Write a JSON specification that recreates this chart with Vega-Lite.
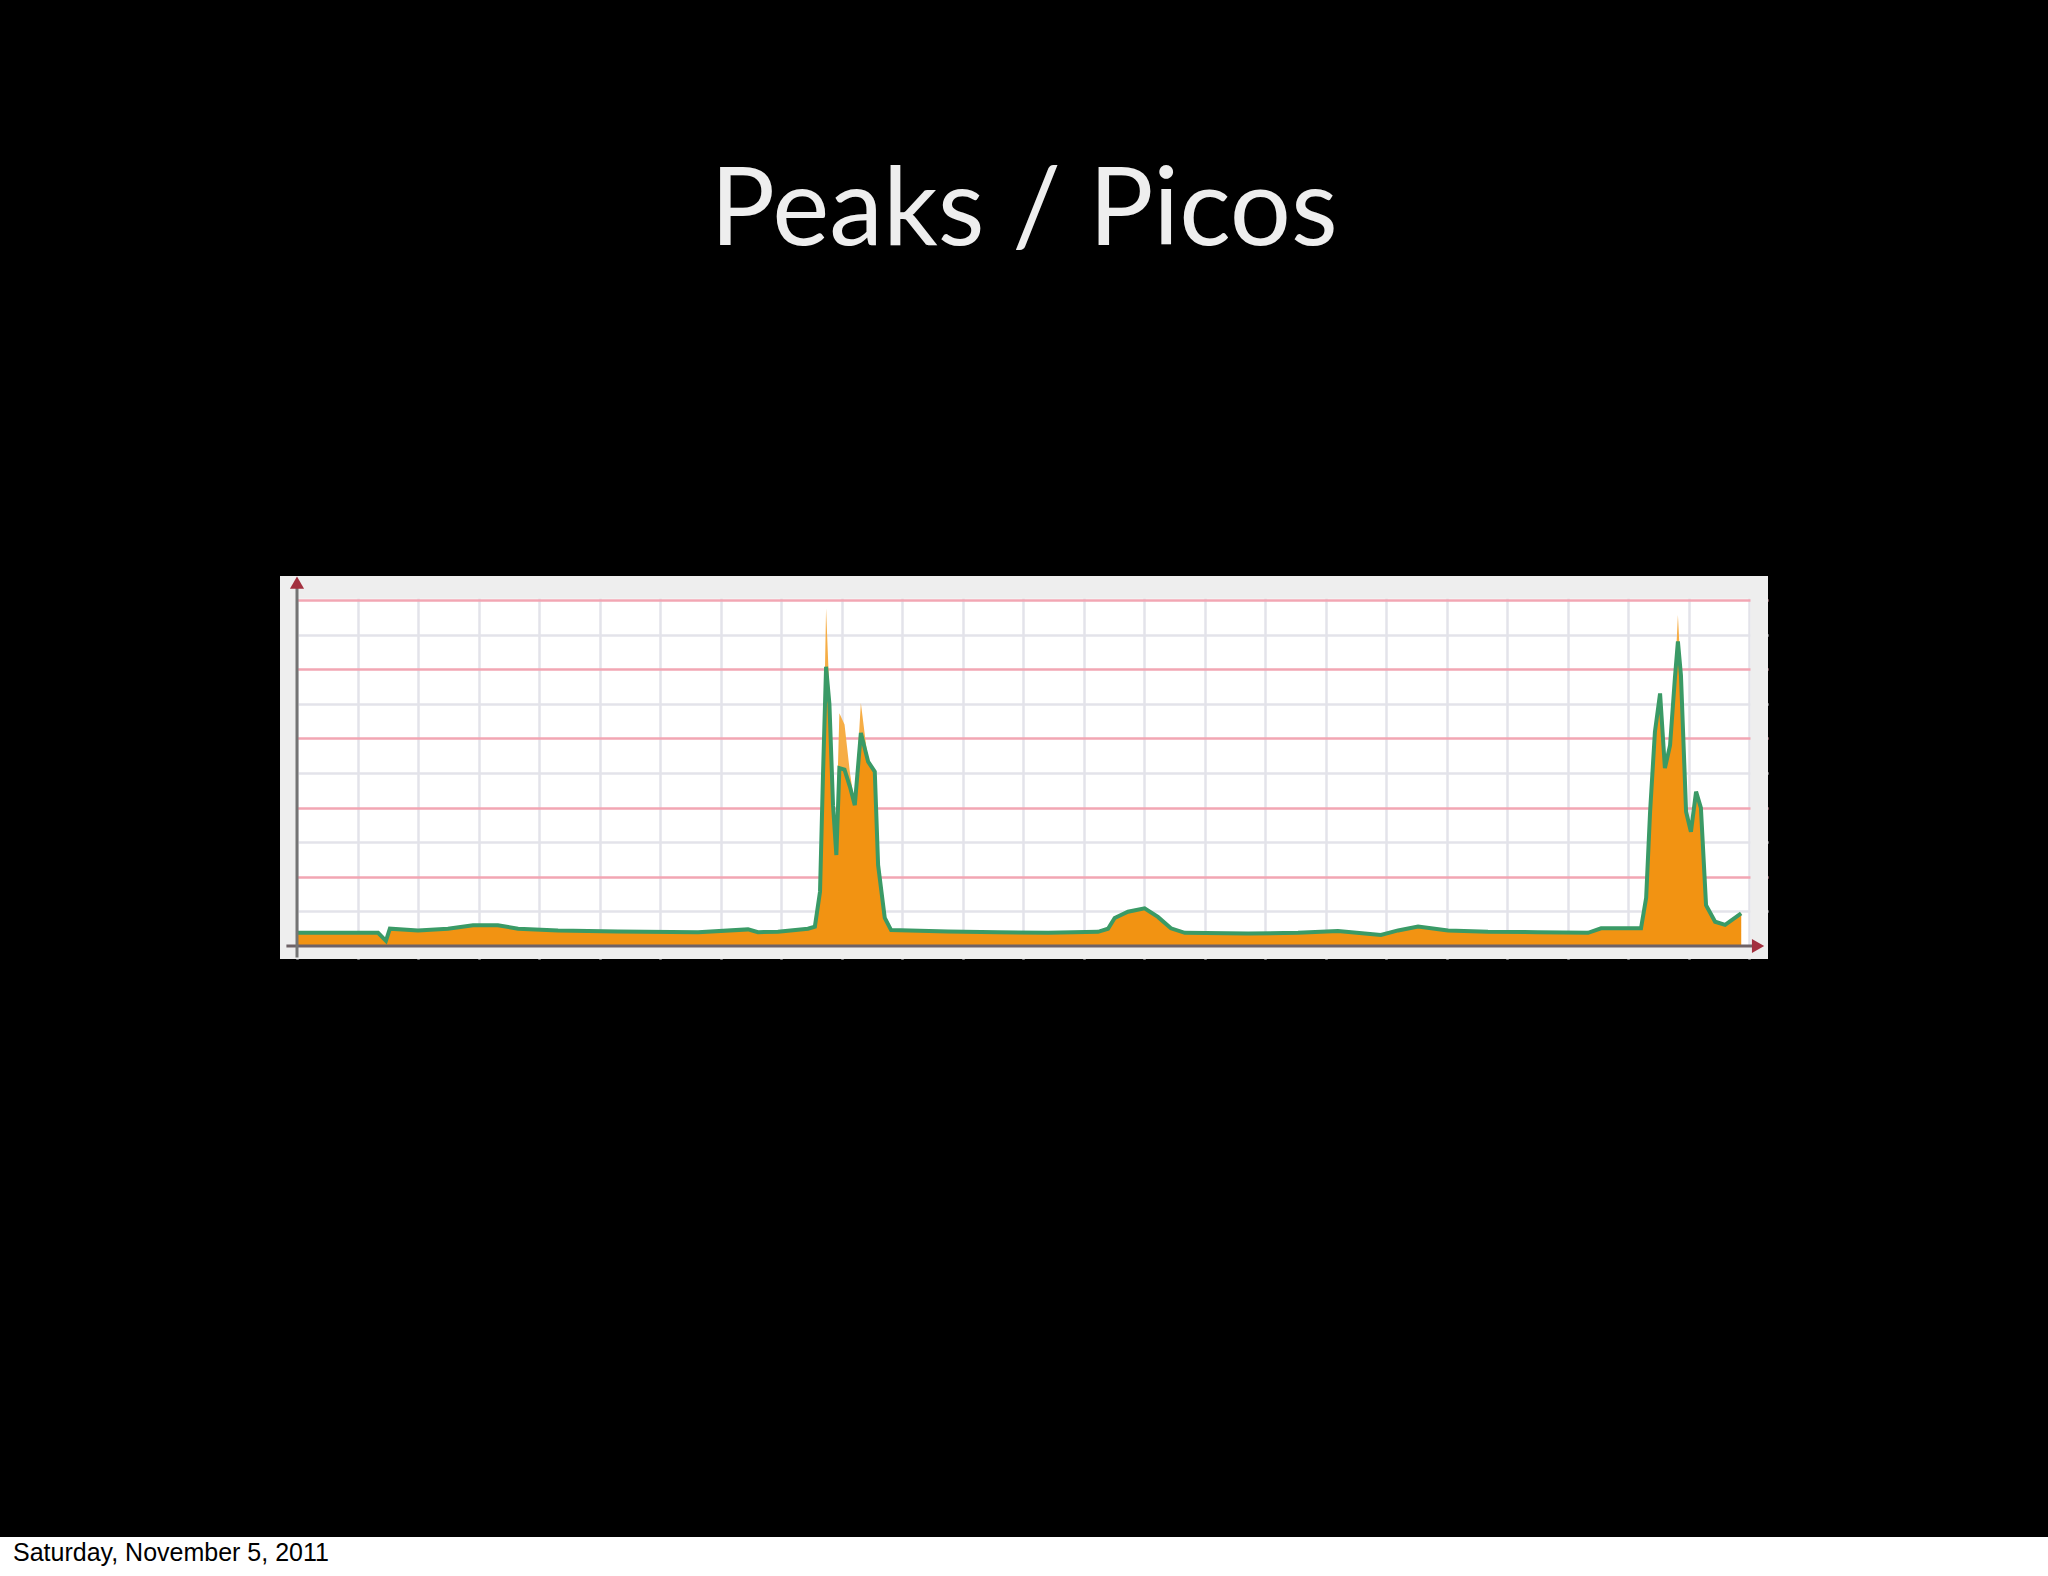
{
  "$schema": "https://vega.github.io/schema/vega-lite/v6.json",
  "background": "#000000",
  "padding": {"left": 0, "right": 0, "top": 159, "bottom": 0},
  "config": {"view": {"stroke": null}},
  "spacing": 578,
  "center": true,
  "vconcat": [
    {
      "width": 1488,
      "height": 383,
      "title": {"text": "Peaks / Picos", "font": "Lato", "fontSize": 108, "fontWeight": "normal", "color": "#eeeeee", "frame": "group", "anchor": "middle", "offset": 223, "baseline": "alphabetic"},
      "view": {"fill": "#ffffff", "stroke": null},
      "data": {"values": [
        {"t": 0, "a": 0.38, "g": 0.38},
        {"t": 2.68, "a": 0.38, "g": 0.38},
        {"t": 2.94, "a": 0.15, "g": 0.15},
        {"t": 3.07, "a": 0.5, "g": 0.5},
        {"t": 4.0, "a": 0.45, "g": 0.45},
        {"t": 4.99, "a": 0.5, "g": 0.5},
        {"t": 5.82, "a": 0.6, "g": 0.6},
        {"t": 6.64, "a": 0.6, "g": 0.6},
        {"t": 7.31, "a": 0.5, "g": 0.5},
        {"t": 8.63, "a": 0.45, "g": 0.45},
        {"t": 10.61, "a": 0.42, "g": 0.42},
        {"t": 13.26, "a": 0.4, "g": 0.4},
        {"t": 14.91, "a": 0.48, "g": 0.48},
        {"t": 15.24, "a": 0.4, "g": 0.4},
        {"t": 15.9, "a": 0.41, "g": 0.41},
        {"t": 16.89, "a": 0.5, "g": 0.5},
        {"t": 17.12, "a": 0.56, "g": 0.56},
        {"t": 17.29, "a": 1.57, "g": 1.57},
        {"t": 17.39, "a": 5.0, "g": 5.0},
        {"t": 17.49, "a": 9.76, "g": 8.07},
        {"t": 17.6, "a": 7.3, "g": 7.0},
        {"t": 17.72, "a": 4.1, "g": 4.07},
        {"t": 17.83, "a": 3.5, "g": 2.63},
        {"t": 17.93, "a": 6.73, "g": 5.14},
        {"t": 18.1, "a": 6.4, "g": 5.1},
        {"t": 18.28, "a": 5.0, "g": 4.6},
        {"t": 18.44, "a": 4.07, "g": 4.07},
        {"t": 18.64, "a": 7.02, "g": 6.16},
        {"t": 18.88, "a": 5.33, "g": 5.33},
        {"t": 19.1, "a": 5.04, "g": 5.04},
        {"t": 19.21, "a": 2.34, "g": 2.34},
        {"t": 19.43, "a": 0.81, "g": 0.81},
        {"t": 19.64, "a": 0.46, "g": 0.46},
        {"t": 21.52, "a": 0.42, "g": 0.42},
        {"t": 23.17, "a": 0.4, "g": 0.4},
        {"t": 24.83, "a": 0.38, "g": 0.38},
        {"t": 26.48, "a": 0.41, "g": 0.41},
        {"t": 26.81, "a": 0.5, "g": 0.5},
        {"t": 27.03, "a": 0.81, "g": 0.81},
        {"t": 27.47, "a": 0.99, "g": 0.99},
        {"t": 28.02, "a": 1.09, "g": 1.09},
        {"t": 28.46, "a": 0.84, "g": 0.84},
        {"t": 28.89, "a": 0.51, "g": 0.51},
        {"t": 29.35, "a": 0.38, "g": 0.38},
        {"t": 31.44, "a": 0.36, "g": 0.36},
        {"t": 33.09, "a": 0.38, "g": 0.38},
        {"t": 34.41, "a": 0.43, "g": 0.43},
        {"t": 35.83, "a": 0.32, "g": 0.32},
        {"t": 36.4, "a": 0.45, "g": 0.45},
        {"t": 37.06, "a": 0.56, "g": 0.56},
        {"t": 38.05, "a": 0.45, "g": 0.45},
        {"t": 39.37, "a": 0.41, "g": 0.41},
        {"t": 41.02, "a": 0.4, "g": 0.4},
        {"t": 42.68, "a": 0.38, "g": 0.38},
        {"t": 43.11, "a": 0.51, "g": 0.51},
        {"t": 44.43, "a": 0.51, "g": 0.51},
        {"t": 44.6, "a": 1.39, "g": 1.39},
        {"t": 44.73, "a": 3.88, "g": 3.88},
        {"t": 44.89, "a": 6.19, "g": 6.19},
        {"t": 45.06, "a": 7.3, "g": 7.3},
        {"t": 45.22, "a": 5.14, "g": 5.14},
        {"t": 45.39, "a": 5.8, "g": 5.8},
        {"t": 45.55, "a": 7.74, "g": 7.74},
        {"t": 45.65, "a": 9.57, "g": 8.8},
        {"t": 45.75, "a": 7.83, "g": 7.83},
        {"t": 45.92, "a": 3.88, "g": 3.88},
        {"t": 46.08, "a": 3.3, "g": 3.3},
        {"t": 46.25, "a": 4.46, "g": 4.46},
        {"t": 46.41, "a": 3.99, "g": 3.99},
        {"t": 46.58, "a": 1.18, "g": 1.18},
        {"t": 46.88, "a": 0.7, "g": 0.7},
        {"t": 47.21, "a": 0.61, "g": 0.61},
        {"t": 47.74, "a": 0.94, "g": 0.94}
      ]},
      "layer": [
        {
          "mark": {"type": "area", "color": "#f6ad45", "opacity": 1},
          "encoding": {
            "x": {"field": "t", "type": "quantitative",
              "scale": {"domain": [-0.562, 48.628], "nice": false, "zero": false},
              "axis": {"values": [0,1,2,3,4,5,6,7,8,9,10,11,12,13,14,15,16,17,18,19,20,21,22,23,24,25,26,27,28,29,30,31,32,33,34,35,36,37,38,39,40,41,42,43,44,45,46,47,48],
                "grid": true, "gridColor": {"condition": {"test": "datum.value % 4 === 3", "value": "#f2a6b3"}, "value": "#e3e3ea"},
                "gridWidth": 2.5, "domain": false, "ticks": false, "labels": false, "title": null}},
            "y": {"field": "a", "type": "quantitative",
              "scale": {"domain": [-0.376, 10.694], "nice": false, "zero": false},
              "axis": {"values": [1,2,3,4,5,6,7,8,9,10],
                "grid": true, "gridColor": {"condition": {"test": "datum.value % 2 === 0", "value": "#f2a6b3"}, "value": "#e3e3ea"},
                "gridWidth": 2.5, "domain": false, "ticks": false, "labels": false, "title": null}},
            "y2": {"datum": 0}
          }
        },
        {
          "mark": {"type": "area", "color": "#f29312", "opacity": 1},
          "encoding": {
            "x": {"field": "t", "type": "quantitative"},
            "y": {"field": "g", "type": "quantitative"},
            "y2": {"datum": 0}
          }
        },
        {
          "mark": {"type": "line", "color": "#3a9a66", "strokeWidth": 4},
          "encoding": {
            "x": {"field": "t", "type": "quantitative"},
            "y": {"field": "g", "type": "quantitative"}
          }
        },
        {
          "data": {"values": [{}]},
          "mark": {"type": "rect", "color": "#eeeeee"},
          "encoding": {"x": {"datum": -0.562}, "x2": {"datum": 48.628}, "y": {"datum": 10.04}, "y2": {"datum": 10.694}}
        },
        {
          "data": {"values": [{}]},
          "mark": {"type": "rect", "color": "#eeeeee"},
          "encoding": {"x": {"datum": -0.562}, "x2": {"datum": 48.628}, "y": {"datum": -0.376}, "y2": {"datum": -0.02}}
        },
        {
          "data": {"values": [{}]},
          "mark": {"type": "rect", "color": "#eeeeee"},
          "encoding": {"x": {"datum": -0.562}, "x2": {"datum": -0.02}, "y": {"datum": -0.376}, "y2": {"datum": 10.694}}
        },
        {
          "data": {"values": [{}]},
          "mark": {"type": "rect", "color": "#eeeeee"},
          "encoding": {"x": {"datum": 48.05}, "x2": {"datum": 48.628}, "y": {"datum": -0.376}, "y2": {"datum": 10.694}}
        },
        {
          "data": {"values": [{}]},
          "mark": {"type": "rule", "color": "#6e6266", "strokeWidth": 3},
          "encoding": {"x": {"datum": -0.35}, "x2": {"datum": 48.2}, "y": {"datum": 0}}
        },
        {
          "data": {"values": [{}]},
          "mark": {"type": "rule", "color": "#747474", "strokeWidth": 3},
          "encoding": {"x": {"datum": 0}, "y": {"datum": -0.33}, "y2": {"datum": 10.45}}
        },
        {
          "data": {"values": [{}]},
          "mark": {"type": "point", "shape": "triangle-up", "filled": true, "color": "#a3303f", "size": 200, "opacity": 1},
          "encoding": {"x": {"datum": 0}, "y": {"datum": 10.5}}
        },
        {
          "data": {"values": [{}]},
          "mark": {"type": "point", "shape": "triangle-right", "filled": true, "color": "#a3303f", "size": 200, "opacity": 1},
          "encoding": {"x": {"datum": 48.3}, "y": {"datum": 0}}
        }
      ]
    },
    {
      "width": 2048,
      "height": 39,
      "view": {"fill": "#ffffff", "stroke": null},
      "title": {"text": "Saturday, November 5, 2011", "font": "Liberation Sans", "fontSize": 25, "fontWeight": "normal", "color": "#000000", "anchor": "start", "frame": "group", "orient": "bottom", "offset": -15, "dx": 13, "baseline": "alphabetic"},
      "data": {"values": [{}]},
      "mark": {"type": "text", "text": ""},
      "encoding": {}
    }
  ]
}
